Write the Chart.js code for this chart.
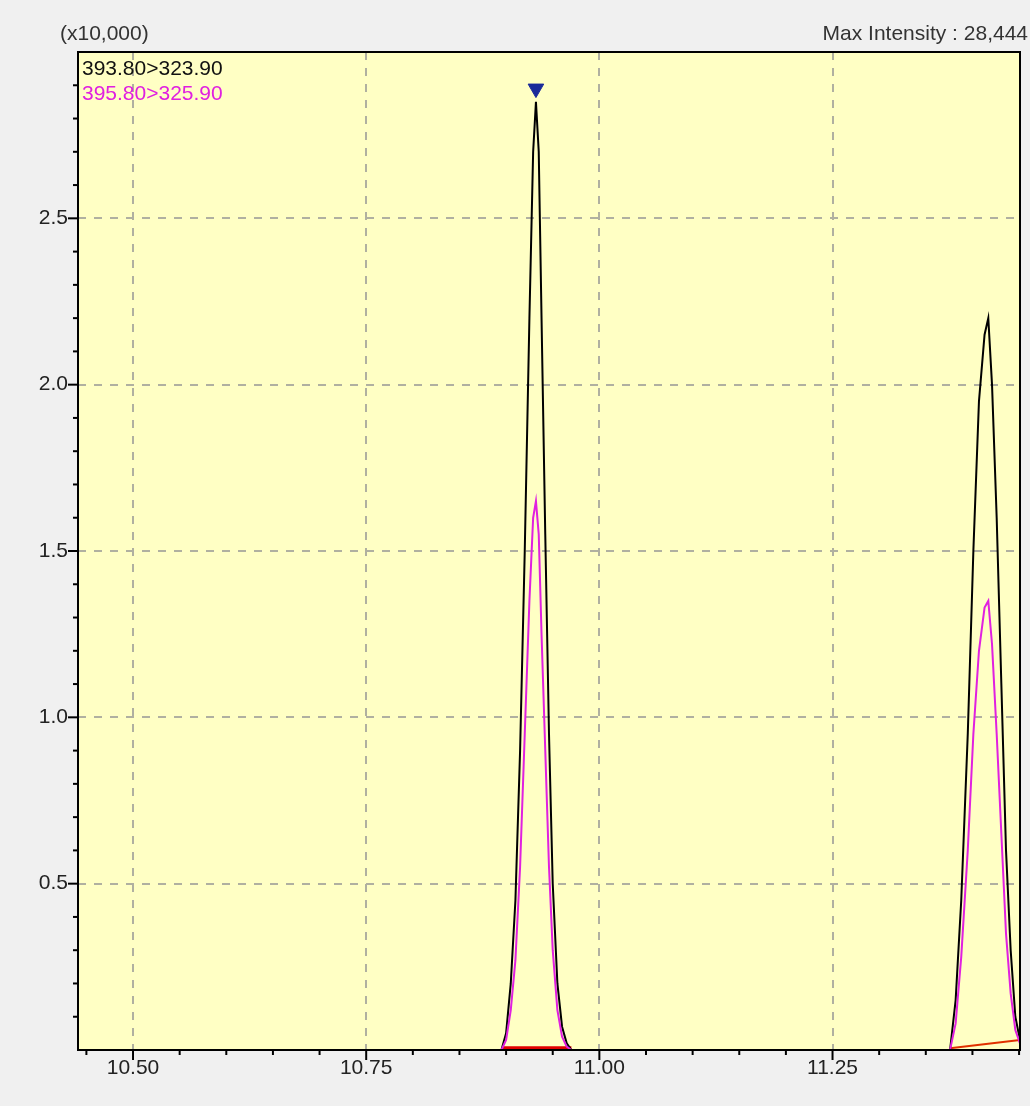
<!DOCTYPE html>
<html>
<head>
<meta charset="utf-8">
<script src="https://cdn.jsdelivr.net/npm/chart.js@4/dist/chart.umd.min.js"></script>
<style>
  html, body { margin: 0; padding: 0; background: #f0f0f0; }
  #wrap { width: 1030px; height: 1106px; }
</style>
</head>
<body>
<div id="wrap"><canvas id="chrom"></canvas></div>
<script>
// values in units of x10,000
const blackX1 = [10.895, 10.900, 10.905, 10.910, 10.915, 10.920, 10.925, 10.929, 10.932, 10.935, 10.938, 10.942, 10.946, 10.950, 10.955, 10.960, 10.965, 10.970];
const blackY1 = [0, 0.05, 0.2, 0.45, 0.9, 1.5, 2.2, 2.7, 2.85, 2.7, 2.2, 1.55, 0.95, 0.5, 0.2, 0.07, 0.02, 0];
const pinkY1  = [0, 0.03, 0.12, 0.27, 0.55, 0.95, 1.35, 1.6, 1.65, 1.55, 1.25, 0.9, 0.55, 0.3, 0.12, 0.04, 0.01, 0];
const blackX2 = [11.376, 11.382, 11.388, 11.395, 11.401, 11.407, 11.413, 11.417, 11.421, 11.426, 11.431, 11.436, 11.441, 11.446, 11.451];
const blackY2 = [0, 0.15, 0.45, 0.95, 1.5, 1.95, 2.15, 2.2, 2.0, 1.6, 1.1, 0.6, 0.3, 0.1, 0.03];
const pinkY2  = [0, 0.08, 0.28, 0.6, 0.95, 1.2, 1.33, 1.35, 1.22, 0.95, 0.65, 0.35, 0.17, 0.06, 0.02];
const baseX1 = [10.896, 10.970];
const baseY1 = [0.005, 0.005];
const baseX2 = [11.376, 11.451];
const baseY2 = [0.005, 0.03];
const topMarkX = [10.932];
const topMarkY = [2.89];
const xMajor = [10.50, 10.75, 11.00, 11.25];
const yMajor = [0.5, 1.0, 1.5, 2.0, 2.5];

const pts = (xs, ys) => xs.map((x, i) => ({ x: x, y: ys[i] }));
const FONT = '"Liberation Sans", Arial, sans-serif';

const frame = {
  id: 'frame',
  beforeDraw(chart) {
    const { ctx, chartArea: a } = chart;
    ctx.save();
    ctx.fillStyle = '#ffffc4';
    ctx.fillRect(a.left, a.top, a.right - a.left, a.bottom - a.top);
    ctx.restore();
  },
  afterDraw(chart) {
    const { ctx, chartArea: a, scales } = chart;
    ctx.save();
    ctx.strokeStyle = '#000';
    ctx.lineWidth = 2;
    ctx.strokeRect(a.left, a.top, a.right - a.left, a.bottom - a.top);
    // minor ticks
    for (let v = 0.1; v < 3.0; v += 0.1) {
      const y = scales.y.getPixelForValue(v);
      const major = yMajor.some(m => Math.abs(m - v) < 1e-6);
      ctx.beginPath(); ctx.moveTo(a.left - (major ? 10 : 5), y); ctx.lineTo(a.left, y); ctx.stroke();
    }
    for (let v = 10.45; v < 11.451; v += 0.05) {
      const x = scales.x.getPixelForValue(v);
      const major = xMajor.some(m => Math.abs(m - v) < 1e-6);
      ctx.beginPath(); ctx.moveTo(x, a.bottom); ctx.lineTo(x, a.bottom + (major ? 10 : 5)); ctx.stroke();
    }
    ctx.font = '21px ' + FONT;
    ctx.textBaseline = 'alphabetic';
    ctx.fillStyle = '#333';
    ctx.textAlign = 'left';
    ctx.fillText('(x10,000)', 60, 40);
    ctx.textAlign = 'right';
    ctx.fillText('Max Intensity : 28,444', 1028, 40);
    ctx.textAlign = 'left';
    ctx.fillStyle = '#111';
    ctx.fillText('393.80>323.90', 82, 75);
    ctx.fillStyle = '#e020e0';
    ctx.fillText('395.80>325.90', 82, 100);
    ctx.restore();
  }
};

new Chart(document.getElementById('chrom'), {
  type: 'scatter',
  data: {
    datasets: [
      { data: pts(blackX1, pinkY1), borderColor: '#e020e0', borderWidth: 2, showLine: true, pointRadius: 0 },
      { data: pts(blackX2, pinkY2), borderColor: '#e020e0', borderWidth: 2, showLine: true, pointRadius: 0 },
      { data: pts(blackX1, blackY1), borderColor: '#000', borderWidth: 2, showLine: true, pointRadius: 0 },
      { data: pts(blackX2, blackY2), borderColor: '#000', borderWidth: 2, showLine: true, pointRadius: 0 },
      { data: pts(baseX1, baseY1), borderColor: '#e00000', borderWidth: 4, showLine: true, pointRadius: 0 },
      { data: pts(baseX2, baseY2), borderColor: '#e03000', borderWidth: 2, showLine: true, pointRadius: 0 },
      { data: pts(topMarkX, topMarkY), pointStyle: 'triangle', rotation: 180, pointRadius: 9,
        backgroundColor: '#1a2a9a', borderColor: '#1a2a9a' }
    ]
  },
  options: {
    responsive: true,
    maintainAspectRatio: false,
    animation: false,
    layout: { padding: { top: 52, right: 4, left: 0, bottom: 0 } },
    plugins: { legend: { display: false }, tooltip: { enabled: false } },
    scales: {
      x: {
        type: 'linear', min: 10.441, max: 11.451,
        afterBuildTicks: s => { s.ticks = xMajor.map(v => ({ value: v })); },
        afterFit: s => { s.height = 56; },
        ticks: { color: '#222', font: { family: FONT, size: 21 }, padding: 6,
          callback: v => v.toFixed(2) },
        grid: { color: '#b0b0a0', lineWidth: 2, tickLength: 0, drawTicks: false },
        border: { display: false, dash: [8, 8] }
      },
      y: {
        min: 0, max: 3.0,
        afterBuildTicks: s => { s.ticks = yMajor.map(v => ({ value: v })); },
        afterFit: s => { s.width = 78; },
        ticks: { color: '#222', font: { family: FONT, size: 21 }, padding: 10,
          callback: v => v.toFixed(1) },
        grid: { color: '#b0b0a0', lineWidth: 2, drawTicks: false },
        border: { display: false, dash: [8, 8] }
      }
    }
  },
  plugins: [frame]
});
</script>
</body>
</html>
